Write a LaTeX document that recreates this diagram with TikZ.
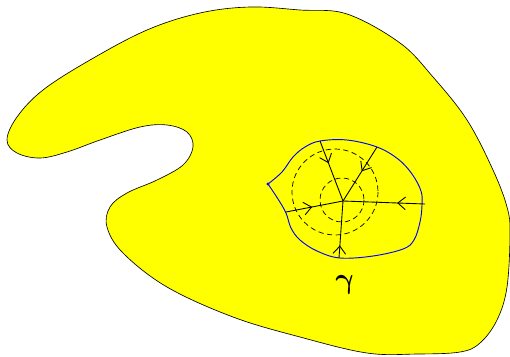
\documentclass[tikz,border=0pt]{standalone}
\usepackage{amsmath,amssymb,bm}
\usepackage{xcolor}
\usepackage{tikz}
\usetikzlibrary{calc,arrows.meta,decorations.markings}
\definecolor{regionyellow}{RGB}{255,255,0}
\tikzset{
  region/.style={draw=black, line width=0.55pt, fill=regionyellow},
  contour/.style={draw=blue, line width=0.8pt},
  ray/.style={draw=black, line width=0.75pt},
  midarrow/.style={postaction={decorate},
    decoration={markings, mark=at position #1 with
      {\arrow{Straight Barb[length=2.3mm,width=3.8mm]}}}},
  level/.style={draw=black, line width=0.6pt, dash pattern=on 4.5pt off 3pt},
  curvelab/.style={font=\fontsize{27}{27}\selectfont, xslant=-0.2,
                   transform shape}
}

\begin{document}
\begin{tikzpicture}[x=0.03cm,y=-0.03cm]
  \useasboundingbox (0,0) rectangle (510,356);
  % the region
  \draw[region] plot[smooth cycle, tension=0.6] coordinates {
    (7,140) (17,117) (43,90) (90,60) (147,30) (200,13) (250,7) (300,10)
    (347,14) (400,43) (433,77) (467,120) (493,170) (507,207) (510,233)
    (507,287) (497,320) (480,343) (460,352) (417,354) (367,353) (300,337)
    (233,317) (167,287) (123,253) (107,227) (110,207) (127,193) (157,180)
    (183,165) (193,147) (187,132) (167,125) (140,127) (100,140) (67,152)
    (40,158) (17,153)};
  % dashed level circles
  \draw[level] (335,192) circle (43);
  \draw[level] (342,200) circle (22);
  % centre and end points of the rays
  \coordinate (o) at (343,201);
  \coordinate (top) at (320,141);
  \coordinate (upright) at (377,147);
  \coordinate (right) at (425,204);
  \coordinate (bottom) at (339,258);
  \coordinate (left) at (286,212);
  \draw[ray, midarrow=0.37] (top) -- (o);
  \draw[ray, midarrow=0.45] (upright) -- (o);
  \draw[ray, midarrow=0.34] (right) -- (o);
  \draw[ray, midarrow=0.22] (bottom) -- (o);
  \draw[ray, midarrow=0.46] (left) -- (o);
  % the curve gamma
  \coordinate (start) at (268,184);
  \draw[contour] plot[smooth, tension=0.6] coordinates {
    (268,184) (282,172) (293,157) (305,147) (320,141) (347,140) (377,147)
    (398,159) (412,174) (421,191) (422,205) (420,222) (414,240) (403,249)
    (373,256) (340,258) (317,251) (300,240) (291,228) (286,213) (278,199)
    (268,184)};
  \fill[blue] (start) circle (1.6);
  \node[curvelab] (gamma) at (346,285) {$\bm{\gamma}$};
\end{tikzpicture}
\end{document}
